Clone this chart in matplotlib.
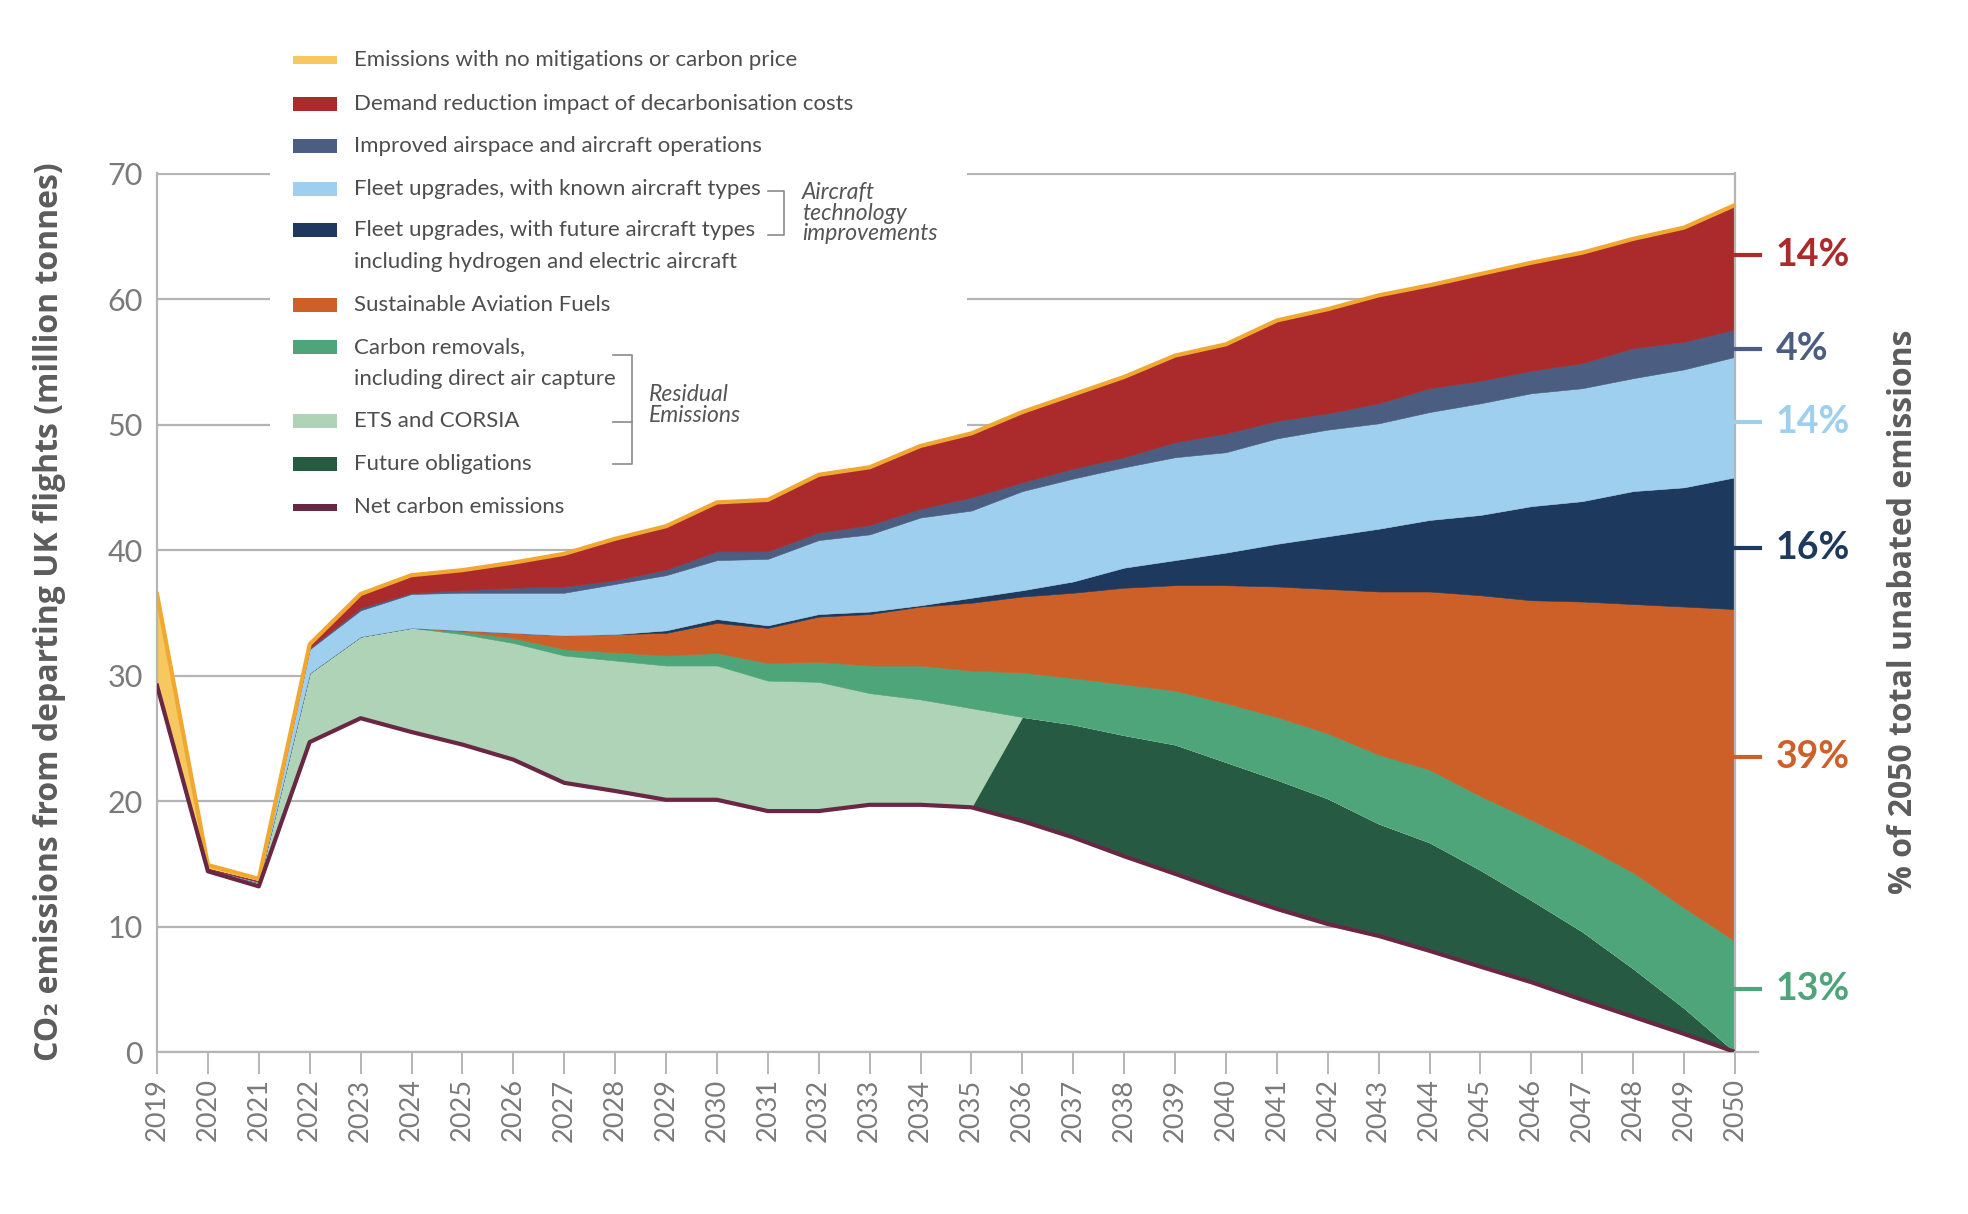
import matplotlib.pyplot as plt
import numpy as np
from matplotlib.lines import Line2D
from matplotlib.patches import Rectangle

plt.rcParams['font.family'] = ['Lato', 'DejaVu Sans']

years = np.arange(2019, 2051)

# boundaries between the stacked bands (million tonnes)
no_mitigation = [36.5, 14.9, 13.8, 32.5, 36.5, 38.0, 38.4, 39.0, 39.7, 40.9, 41.9, 43.8, 44.0, 46.0, 46.6, 48.3,
                 49.3, 51.0, 52.4, 53.8, 55.5, 56.4, 58.3, 59.2, 60.3, 61.1, 62.0, 62.9, 63.7, 64.8, 65.7, 67.5]
below_demand = [29.2, 14.6, 13.6, 32.2, 35.4, 36.6, 36.8, 37.0, 37.1, 37.6, 38.45, 39.9, 39.9, 41.4, 42.0, 43.3,
                44.2, 45.4, 46.5, 47.4, 48.6, 49.3, 50.3, 50.9, 51.7, 52.9, 53.5, 54.3, 54.9, 56.1, 56.6, 57.6]
below_operations = [29.2, 14.55, 13.55, 32.1, 35.2, 36.5, 36.6, 36.6, 36.6, 37.3, 38.0, 39.2, 39.3, 40.8, 41.25, 42.6,
                    43.15, 44.7, 45.7, 46.6, 47.4, 47.8, 48.9, 49.6, 50.1, 51.0, 51.7, 52.5, 52.9, 53.7, 54.4, 55.4]
below_fleet_known = [29.2, 14.5, 13.5, 30.2, 33.1, 33.8, 33.6, 33.4, 33.2, 33.3, 33.6, 34.5, 34.0, 34.9, 35.1, 35.6,
                     36.2, 36.8, 37.5, 38.6, 39.2, 39.8, 40.5, 41.1, 41.7, 42.4, 42.8, 43.5, 43.9, 44.7, 45.0, 45.8]
below_fleet_future = [29.2, 14.5, 13.5, 30.2, 33.1, 33.8, 33.6, 33.4, 33.2, 33.3, 33.4, 34.2, 33.8, 34.7, 34.9, 35.5,
                      35.8, 36.3, 36.6, 37.0, 37.2, 37.2, 37.1, 36.9, 36.7, 36.7, 36.4, 36.0, 35.9, 35.7, 35.5, 35.3]
below_saf = [29.2, 14.5, 13.5, 30.2, 33.1, 33.8, 33.5, 33.0, 32.1, 31.85, 31.6, 31.8, 31.0, 31.1, 30.8, 30.8,
             30.4, 30.25, 29.8, 29.3, 28.8, 27.8, 26.7, 25.4, 23.7, 22.5, 20.4, 18.5, 16.5, 14.3, 11.5, 8.85]
below_removals = [29.2, 14.5, 13.5, 30.2, 33.1, 33.8, 33.3, 32.6, 31.6, 31.2, 30.8, 30.8, 29.6, 29.5, 28.6, 28.1,
                  27.4, 26.7, 26.1, 25.25, 24.5, 23.1, 21.7, 20.2, 18.2, 16.7, 14.5, 12.1, 9.6, 6.65, 3.5, 0.0]
net_emissions = [29.2, 14.4, 13.2, 24.7, 26.6, 25.5, 24.5, 23.3, 21.45, 20.8, 20.1, 20.1, 19.2, 19.2, 19.7, 19.7,
                 19.5, 18.4, 17.1, 15.6, 14.2, 12.75, 11.4, 10.2, 9.25, 8.06, 6.8, 5.56, 4.16, 2.8, 1.44, 0.0]
demand_from = 2022
obligations_from = 2036

pct_labels = ["14%", "4%", "14%", "16%", "39%", "13%"]
pct_y = [63.5, 56.0, 50.2, 40.2, 23.5, 5.0]

c_yellow = "#f6c85f"
c_line = "#f0a830"
c_red = "#ab2a2b"
c_ops = "#4b5d80"
c_known = "#9fcfef"
c_future = "#1d395d"
c_saf = "#cd6029"
c_removals = "#4ea57a"
c_ets = "#aed3b7"
c_oblig = "#275a43"
c_net = "#6a2744"
pct_colors = [c_red, c_ops, c_known, c_future, c_saf, c_removals]

T = np.array(no_mitigation)
R = np.array(below_demand)
O = np.array(below_operations)
L = np.array(below_fleet_known)
N = np.array(below_fleet_future)
S = np.array(below_saf)
C = np.array(below_removals)
F = np.array(net_emissions)

oblig = np.where(years >= obligations_from, C - F, 0)
ets = np.where(years >= obligations_from, 0, C - F)
layers = [oblig, ets, S - C, N - S, L - N, O - L, R - O, np.where(years >= demand_from, T - R, 0)]
colors = [c_oblig, c_ets, c_removals, c_saf, c_future, c_known, c_ops, c_red]

W, H = 1968, 1214
fig = plt.figure(figsize=(W / 100, H / 100), dpi=100)
ax = fig.add_axes([157 / W, 1 - 1052 / H, (1735 - 157) / W, (1052 - 173) / H])

ax.fill_between(years, F, T, color=c_yellow, lw=0, zorder=1.5)
base = F.copy()
for vals, col in zip(layers, colors):
    ax.fill_between(years, base, base + vals, color=col, lw=0.4, edgecolor=col, zorder=2)
    base = base + vals
ax.plot(years, T, color=c_line, lw=3, zorder=3, solid_joinstyle='round')
ax.plot(years, F, color=c_net, lw=3, zorder=3, solid_joinstyle='round')

ax.set_xlim(2019, 2050)
ax.set_ylim(0, 70.05)
ax.set_yticks(range(0, 80, 10))
ax.set_xticks(years)
ax.set_xticklabels([str(y) for y in years], rotation=90)
ax.grid(axis='y', color='#b5b5b5', lw=1.6)
ax.set_axisbelow(True)
for s in ['left', 'bottom', 'right']:
    ax.spines[s].set_color('#b5b5b5')
    ax.spines[s].set_linewidth(1.6)
ax.spines['top'].set_visible(False)
ax.tick_params(axis='y', length=0, pad=10, labelsize=22, labelcolor='#7a7a7a')
ax.tick_params(axis='x', length=16, width=1.4, color='#b5b5b5', pad=3, labelsize=19.5, labelcolor='#7a7a7a')
ax.plot([2050, 2050.45], [0, 0], color='#b5b5b5', lw=1.6, clip_on=False, zorder=3)

# white box behind the legend
ax.add_patch(Rectangle((270 / W, 1 - 530 / H), (967 - 270) / W, (530 - 30) / H, transform=fig.transFigure,
                       facecolor='white', edgecolor='none', zorder=0.8, clip_on=False))

# percentage markers on the right
for lab, y, col in zip(pct_labels, pct_y, pct_colors):
    ax.plot([2050, 2050.5], [y, y], color=col, lw=3, clip_on=False, zorder=3)
    ax.text(2050.8, y, lab, color=col, fontsize=27, fontweight='bold', va='center', ha='left')

label_font = ['Open Sans', 'DejaVu Sans']
fig.text(50 / W, 1 - 612 / H, "CO₂ emissions from departing UK flights (million tonnes)", rotation=90,
         ha='center', va='center', fontsize=23, fontweight='bold', color='#5c5c5c', family=label_font)
fig.text(1904 / W, 1 - 612 / H, "% of 2050 total unabated emissions", rotation=90,
         ha='center', va='center', fontsize=23, fontweight='bold', color='#5c5c5c', family=label_font)

# legend
legend_rows = [
    ("line", c_yellow, ["Emissions with no mitigations or carbon price"], 60),
    ("patch", c_red, ["Demand reduction impact of decarbonisation costs"], 104),
    ("patch", c_ops, ["Improved airspace and aircraft operations"], 146),
    ("patch", c_known, ["Fleet upgrades, with known aircraft types"], 189),
    ("patch", c_future, ["Fleet upgrades, with future aircraft types", "including hydrogen and electric aircraft"], 230),
    ("patch", c_saf, ["Sustainable Aviation Fuels"], 305),
    ("patch", c_removals, ["Carbon removals,", "including direct air capture"], 347),
    ("patch", c_ets, ["ETS and CORSIA"], 421),
    ("patch", c_oblig, ["Future obligations"], 464),
    ("line", c_net, ["Net carbon emissions"], 507),
]
for kind, col, lines, y in legend_rows:
    h = 7 if kind == "line" else 14
    fig.add_artist(Rectangle((293 / W, 1 - (y + h / 2) / H), 44 / W, h / H, transform=fig.transFigure,
                             facecolor=col, edgecolor='none'))
    for i, txt in enumerate(lines):
        fig.text(354 / W, 1 - (y + 32 * i) / H, txt, ha='left', va='center', fontsize=16, color='#4d4d4d')

gray = '#8a8a8a'
fig.add_artist(Line2D(np.array([768, 784, 784, 768]) / W, 1 - np.array([191, 191, 235, 235]) / H,
                      transform=fig.transFigure, color=gray, lw=1.2))
fig.text(802 / W, 1 - 213 / H, "Aircraft\ntechnology\nimprovements", ha='left', va='center', fontsize=16.5,
         style='italic', color='#555555', linespacing=0.95)
fig.add_artist(Line2D(np.array([613, 632, 632, 613]) / W, 1 - np.array([355, 355, 464, 464]) / H,
                      transform=fig.transFigure, color=gray, lw=1.2))
fig.add_artist(Line2D(np.array([613, 632]) / W, 1 - np.array([422, 422]) / H,
                      transform=fig.transFigure, color=gray, lw=1.2))
fig.text(649 / W, 1 - 405 / H, "Residual\nEmissions", ha='left', va='center', fontsize=16.5,
         style='italic', color='#555555', linespacing=0.95)

fig.savefig("out.png", dpi=100)
